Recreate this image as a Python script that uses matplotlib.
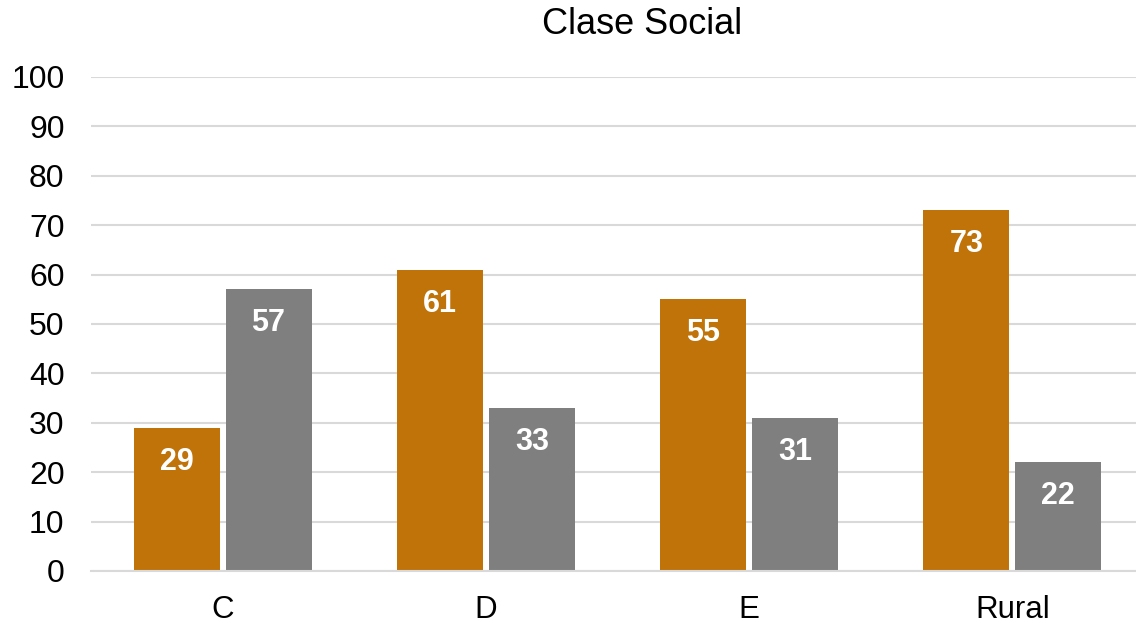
import matplotlib
matplotlib.use("Agg")
import matplotlib.pyplot as plt
import numpy as np

categories = ["C", "D", "E", "Rural"]
serie_a = [29, 61, 55, 73]
serie_b = [57, 33, 31, 22]
y_ticks = list(range(0, 101, 10))

plt.rcParams['font.family'] = ['Liberation Sans', 'DejaVu Sans']

W, H = 1136, 623
fig = plt.figure(figsize=(W / 100, H / 100), dpi=100)
ax = fig.add_axes([91 / W, 1 - 571 / H, (1144 - 91) / W, (571 - 77) / H])

x = np.arange(len(categories))
w = 0.327
gap = 0.011
bars_a = ax.bar(x - w / 2 - gap, serie_a, w, color="#BF7309", zorder=2)
bars_b = ax.bar(x + w / 2 + gap, serie_b, w, color="#7F7F7F", zorder=2)

for bars in (bars_a, bars_b):
    for b in bars:
        ax.annotate(f"{b.get_height():.0f}", (b.get_x() + b.get_width() / 2, b.get_height()),
                    xytext=(0, -34), textcoords="offset pixels", ha="center", va="center",
                    color="white", fontsize=22, fontweight="bold")

ax.set_xlim(-0.5, 3.5)
ax.set_ylim(0, 100)
ax.set_yticks(y_ticks)
ax.set_xticks(x)
ax.set_xticklabels(categories)
ax.tick_params(axis="y", length=0, pad=19, labelsize=23)
ax.tick_params(axis="x", length=0, pad=17, labelsize=22.5)
ax.grid(axis="y", color="#D9D9D9", linewidth=1.5, zorder=0)
for s in ["top", "right", "left"]:
    ax.spines[s].set_visible(False)
ax.spines["bottom"].set_color("#D9D9D9")
ax.spines["bottom"].set_linewidth(1.5)

fig.text(642 / W, 1 - 25 / H, "Clase Social", ha="center", va="center", fontsize=26)

fig.savefig("out.png", dpi=100)
